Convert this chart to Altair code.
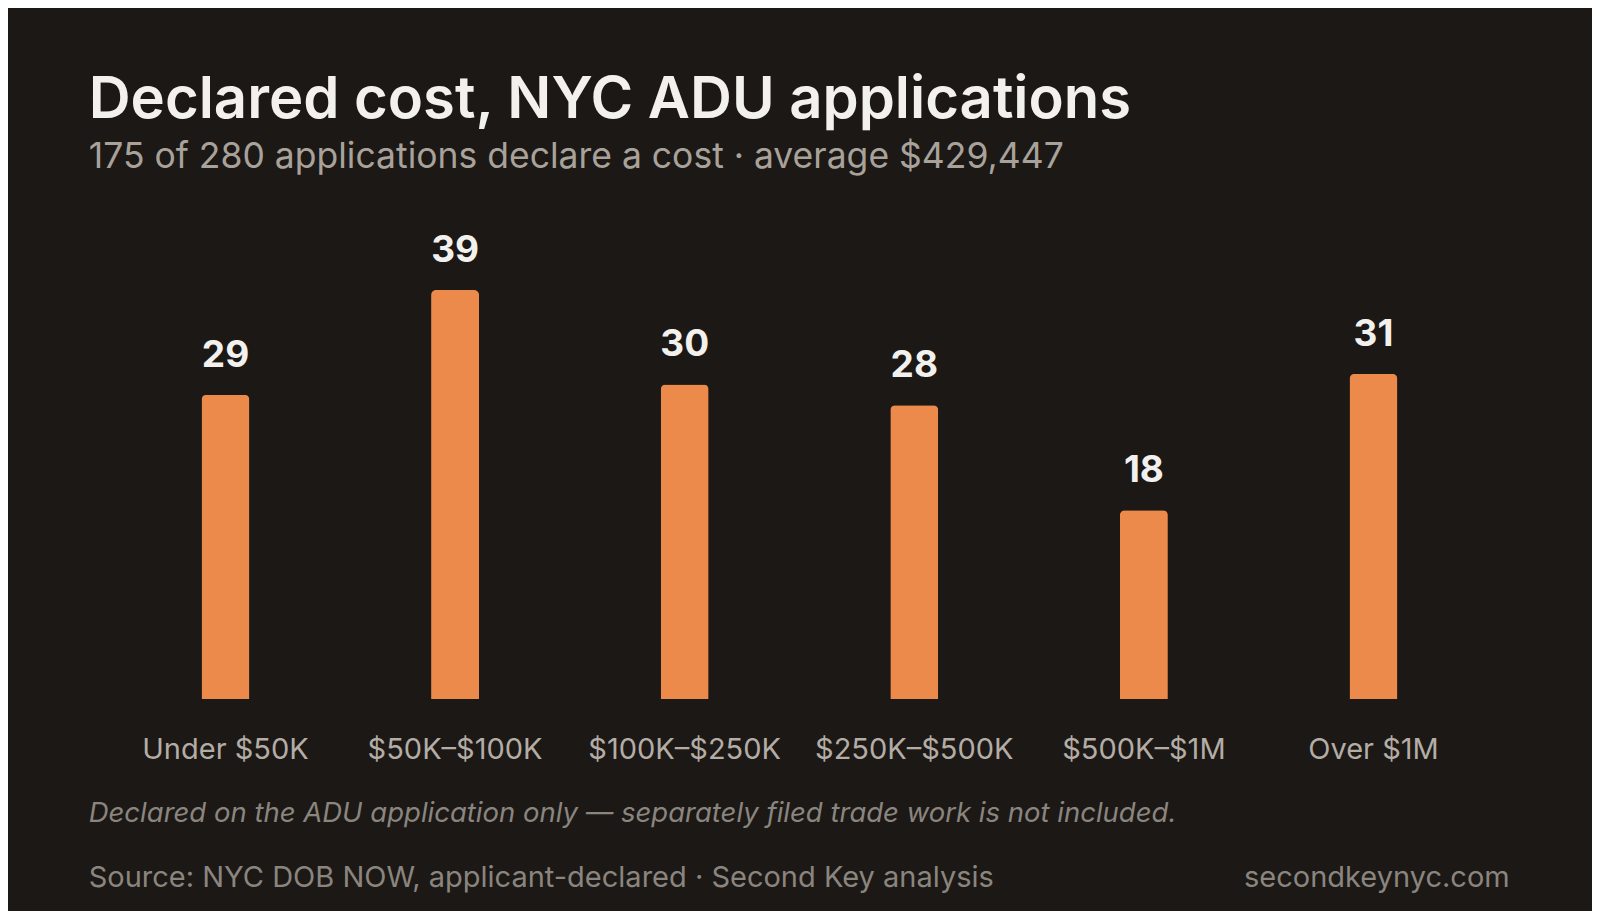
import altair as alt
import pandas as pd

categories = ["Under $50K", "$50K–$100K", "$100K–$250K", "$250K–$500K", "$500K–$1M", "Over $1M"]
counts = [29, 39, 30, 28, 18, 31]

title_text = "Declared cost, NYC ADU applications"
subtitle_text = "175 of 280 applications declare a cost · average $429,447"
footnote_text = "Declared on the ADU application only — separately filed trade work is not included."
source_text = "Source: NYC DOB NOW, applicant-declared · Second Key analysis"
site_text = "secondkeynyc.com"

FONT = "Inter"
BG = "#1c1815"
BAR = "#ec8a4b"

df = pd.DataFrame({"category": categories, "count": counts})

x_enc = alt.X(
    "category:N",
    sort=categories,
    scale=alt.Scale(paddingInner=0.5, paddingOuter=0.25),
    axis=alt.Axis(
        title=None, domain=False, ticks=False, tickSize=0, grid=False,
        labelAngle=0, labelFont=FONT, labelFontSize=29, labelColor="#b3ada6",
        labelBaseline="alphabetic", labelPadding=59, labelLimit=0,
    ),
)
y_enc = alt.Y("count:Q", scale=alt.Scale(domain=[0, 39], nice=False, zero=True), axis=None)

bars = alt.Chart(df).mark_bar(
    size=48, color=BAR, cornerRadiusTopLeft=5, cornerRadiusTopRight=5
).encode(x=x_enc, y=y_enc)

values = alt.Chart(df).mark_text(
    font=FONT, fontSize=37, fontWeight=700, color="#f3f1ed",
    baseline="alphabetic", dy=-28,
).encode(x=x_enc, y=y_enc, text="count:Q")


def label(text, x, y, size, color, weight=400, style="normal", align="left"):
    return alt.Chart(pd.DataFrame({"t": [text]})).mark_text(
        font=FONT, fontSize=size, fontWeight=weight, fontStyle=style,
        color=color, align=align, baseline="alphabetic",
    ).encode(text="t:N", x=alt.value(x), y=alt.value(y))


title = label(title_text, -22, -172, 58, "#f3f1ed", weight=600)
subtitle = label(subtitle_text, -22, -122, 35.5, "#a8a29b")
footnote = label(footnote_text, -22, 532, 27.5, "#8a857f", style="italic")
source = label(source_text, -22, 597, 29, "#8a857f")
site = label(site_text, 1399, 597, 29, "#8a857f", align="right")

chart = alt.layer(bars, values, title, subtitle, footnote, source, site).properties(
    width=1377.6,
    height=409,
    autosize=alt.AutoSizeParams(type="none"),
    padding={"left": 102.7, "top": 282, "right": 103.7, "bottom": 212},
    background=BG,
).configure_view(stroke=None)

chart.save("out.html", embed_options={"renderer": "svg", "actions": False})
